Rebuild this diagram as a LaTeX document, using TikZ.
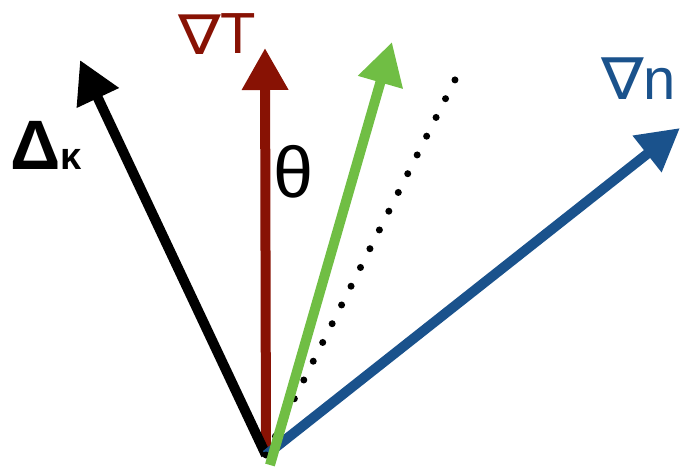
\documentclass[tikz,border=0pt]{standalone}
\usepackage{fontspec}
\setmainfont{Liberation Sans}
\newfontfamily\dvsans{DejaVu Sans}
\usetikzlibrary{arrows.meta}
\definecolor{gradT}{RGB}{136,18,4}
\definecolor{gradN}{RGB}{26,82,140}
\definecolor{vgreen}{RGB}{112,190,68}
\begin{document}
\begin{tikzpicture}[x=1pt,y=-1pt,
  vec/.style={line width=10pt,-{Triangle[length=42pt,width=44pt]}},
  lbl/.style={inner sep=0pt,anchor=base west}]
\useasboundingbox (0,0) rectangle (686,468);
\coordinate (o) at (266,455);
\coordinate (og) at (270,465);
\coordinate (tk) at (80,60);
\coordinate (tt) at (265,48);
\coordinate (tg) at (392,42);
\coordinate (td) at (462,66);
\coordinate (tn) at (680,128);
\draw[vec,gradT] (o) -- (tt);
\draw[vec,black] (o) -- (tk);
\draw[vec,gradN] (o) -- (tn);
\draw[line width=7pt,dash pattern=on 0pt off 21pt,line cap=round] (o) -- (td);
\draw[vec,vgreen] (og) -- (tg);
\node[lbl,text=gradT,font=\fontsize{58}{60}\selectfont] (lT) at (178,54) {{\dvsans\fontsize{58}{60}\selectfont\raisebox{-1pt}{\scalebox{1.1}[0.95]{∇}}}T};
\node[lbl,text=gradN,font=\fontsize{58}{60}\selectfont] (lN) at (601,100) {{\dvsans\fontsize{58}{60}\selectfont\scalebox{1.1}[1.0]{∇}}n};
\node[lbl,font=\bfseries\fontsize{70}{74}\selectfont] (lK) at (10,170) {Δ\fontsize{38}{40}\selectfont κ};
\node[lbl,font=\fontsize{72}{76}\selectfont] (th) at (273,198) {θ};
\end{tikzpicture}
\end{document}
